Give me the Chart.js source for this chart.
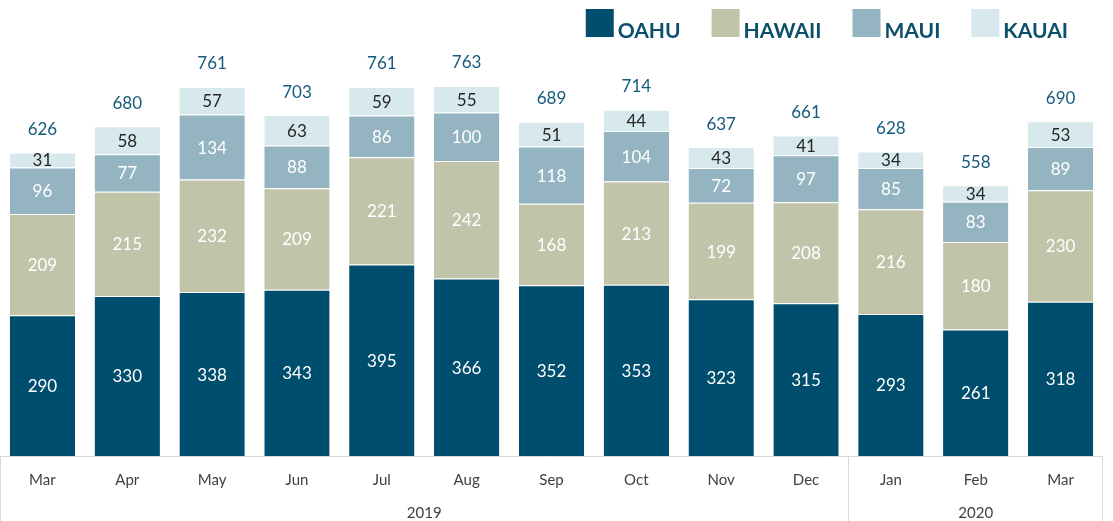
<!DOCTYPE html>
<html>
<head>
<meta charset="utf-8">
<script src="https://cdn.jsdelivr.net/npm/chart.js@4"></script>
<style>
  html, body { margin: 0; padding: 0; background: #fff; }
  #wrap { width: 1113px; height: 521px; }
</style>
</head>
<body>
<div id="wrap"><canvas id="c" width="1113" height="521"></canvas></div>
<script>
const categories = ['Mar','Apr','May','Jun','Jul','Aug','Sep','Oct','Nov','Dec','Jan','Feb','Mar'];
const yearLabels = ['2019','2020'];
const yearSpans = [10, 3];
const oahu   = [290,330,338,343,395,366,352,353,323,315,293,261,318];
const hawaii = [209,215,232,209,221,242,168,213,199,208,216,180,230];
const maui   = [96,77,134,88,86,100,118,104,72,97,85,83,89];
const kauai  = [31,58,57,63,59,55,51,44,43,41,34,34,53];
const totals = [626,680,761,703,761,763,689,714,637,661,628,558,690];
const seriesNames = ['OAHU','HAWAII','MAUI','KAUAI'];

const colors = ['#004e6d','#c1c4a8','#93b4c0','#d8e9ed'];
const labelColors = ['#ffffff','#ffffff','#ffffff','#262626'];
const FONT = 'Lato, "Noto Sans", sans-serif';

const overlay = {
  id: 'overlay',
  afterDatasetsDraw(chart) {
    const ctx = chart.ctx;
    ctx.save();
    ctx.textAlign = 'center';
    ctx.textBaseline = 'middle';
    ctx.font = '17px ' + FONT;
    chart.data.datasets.forEach((ds, di) => {
      const meta = chart.getDatasetMeta(di);
      meta.data.forEach((bar, i) => {
        const yc = (bar.y + bar.base) / 2;
        ctx.fillStyle = labelColors[di];
        ctx.fillText(String(ds.data[i]), bar.x, yc + 1);
      });
    });
    // totals
    const topMeta = chart.getDatasetMeta(chart.data.datasets.length - 1);
    ctx.fillStyle = '#155a7c';
    topMeta.data.forEach((bar, i) => {
      ctx.fillText(String(totals[i]), bar.x, bar.y - 23);
    });
    ctx.restore();
  },
  afterDraw(chart) {
    const ctx = chart.ctx;
    const xs = chart.scales.x;
    const area = chart.chartArea;
    const left = area.left, right = area.right, bottom = area.bottom;
    const H = chart.height;
    const step = (right - left) / categories.length;
    ctx.save();
    // frame lines
    ctx.strokeStyle = '#d9d9d9';
    ctx.lineWidth = 1;
    ctx.beginPath();
    ctx.moveTo(left, bottom + 0.5); ctx.lineTo(right, bottom + 0.5);
    ctx.moveTo(left + 0.5, bottom); ctx.lineTo(left + 0.5, H);
    ctx.moveTo(right - 0.5, bottom); ctx.lineTo(right - 0.5, H);
    let idx = 0;
    yearSpans.forEach((span, k) => {
      idx += span;
      if (k < yearSpans.length - 1) {
        const xb = Math.round(xs.getPixelForValue(idx - 1) + step / 2) + 0.5;
        ctx.moveTo(xb, bottom); ctx.lineTo(xb, H);
      }
    });
    ctx.stroke();
    // month labels
    ctx.fillStyle = '#404040';
    ctx.textAlign = 'center';
    ctx.textBaseline = 'middle';
    ctx.font = '15px ' + FONT;
    categories.forEach((c, i) => {
      ctx.fillText(c, xs.getPixelForValue(i), bottom + 24);
    });
    // year labels
    let start = 0;
    yearSpans.forEach((span, k) => {
      const x0 = xs.getPixelForValue(start) - step / 2;
      const x1 = xs.getPixelForValue(start + span - 1) + step / 2;
      ctx.fillText(yearLabels[k], (x0 + x1) / 2, bottom + 57);
      start += span;
    });
    // legend (right aligned)
    ctx.font = 'bold 21px ' + FONT;
    ctx.textAlign = 'left';
    ctx.textBaseline = 'alphabetic';
    const box = 28, gapBox = 4, gapItem = 31;
    const widths = chart.data.datasets.map(d => ctx.measureText(d.label).width);
    let x = 1068;
    for (let k = chart.data.datasets.length - 1; k >= 0; k--) {
      x -= widths[k];
      const tx = x;
      x -= gapBox + box;
      const bx = x;
      ctx.fillStyle = chart.data.datasets[k].backgroundColor;
      ctx.fillRect(bx, 9, box, box);
      ctx.fillStyle = '#0b4f6c';
      ctx.fillText(chart.data.datasets[k].label, tx, 37.5);
      x -= gapItem;
    }
    ctx.restore();
  }
};

const seriesData = [oahu, hawaii, maui, kauai];
new Chart(document.getElementById('c'), {
  type: 'bar',
  data: {
    labels: categories,
    datasets: seriesData.map((d, i) => ({
      label: seriesNames[i],
      data: d,
      backgroundColor: colors[i],
      borderColor: '#ffffff',
      borderWidth: { top: 1, left: 0, right: 0, bottom: 0 },
      borderSkipped: false,
      categoryPercentage: 1,
      barPercentage: 0.77
    }))
  },
  options: {
    responsive: false,
    animation: false,
    layout: { padding: { top: 68, bottom: 65, left: 0, right: 10 } },
    plugins: { legend: { display: false }, tooltip: { enabled: false } },
    scales: {
      x: { display: false, stacked: true },
      y: { display: false, stacked: true, min: 0, max: 800 }
    }
  },
  plugins: [overlay]
});
</script>
</body>
</html>
